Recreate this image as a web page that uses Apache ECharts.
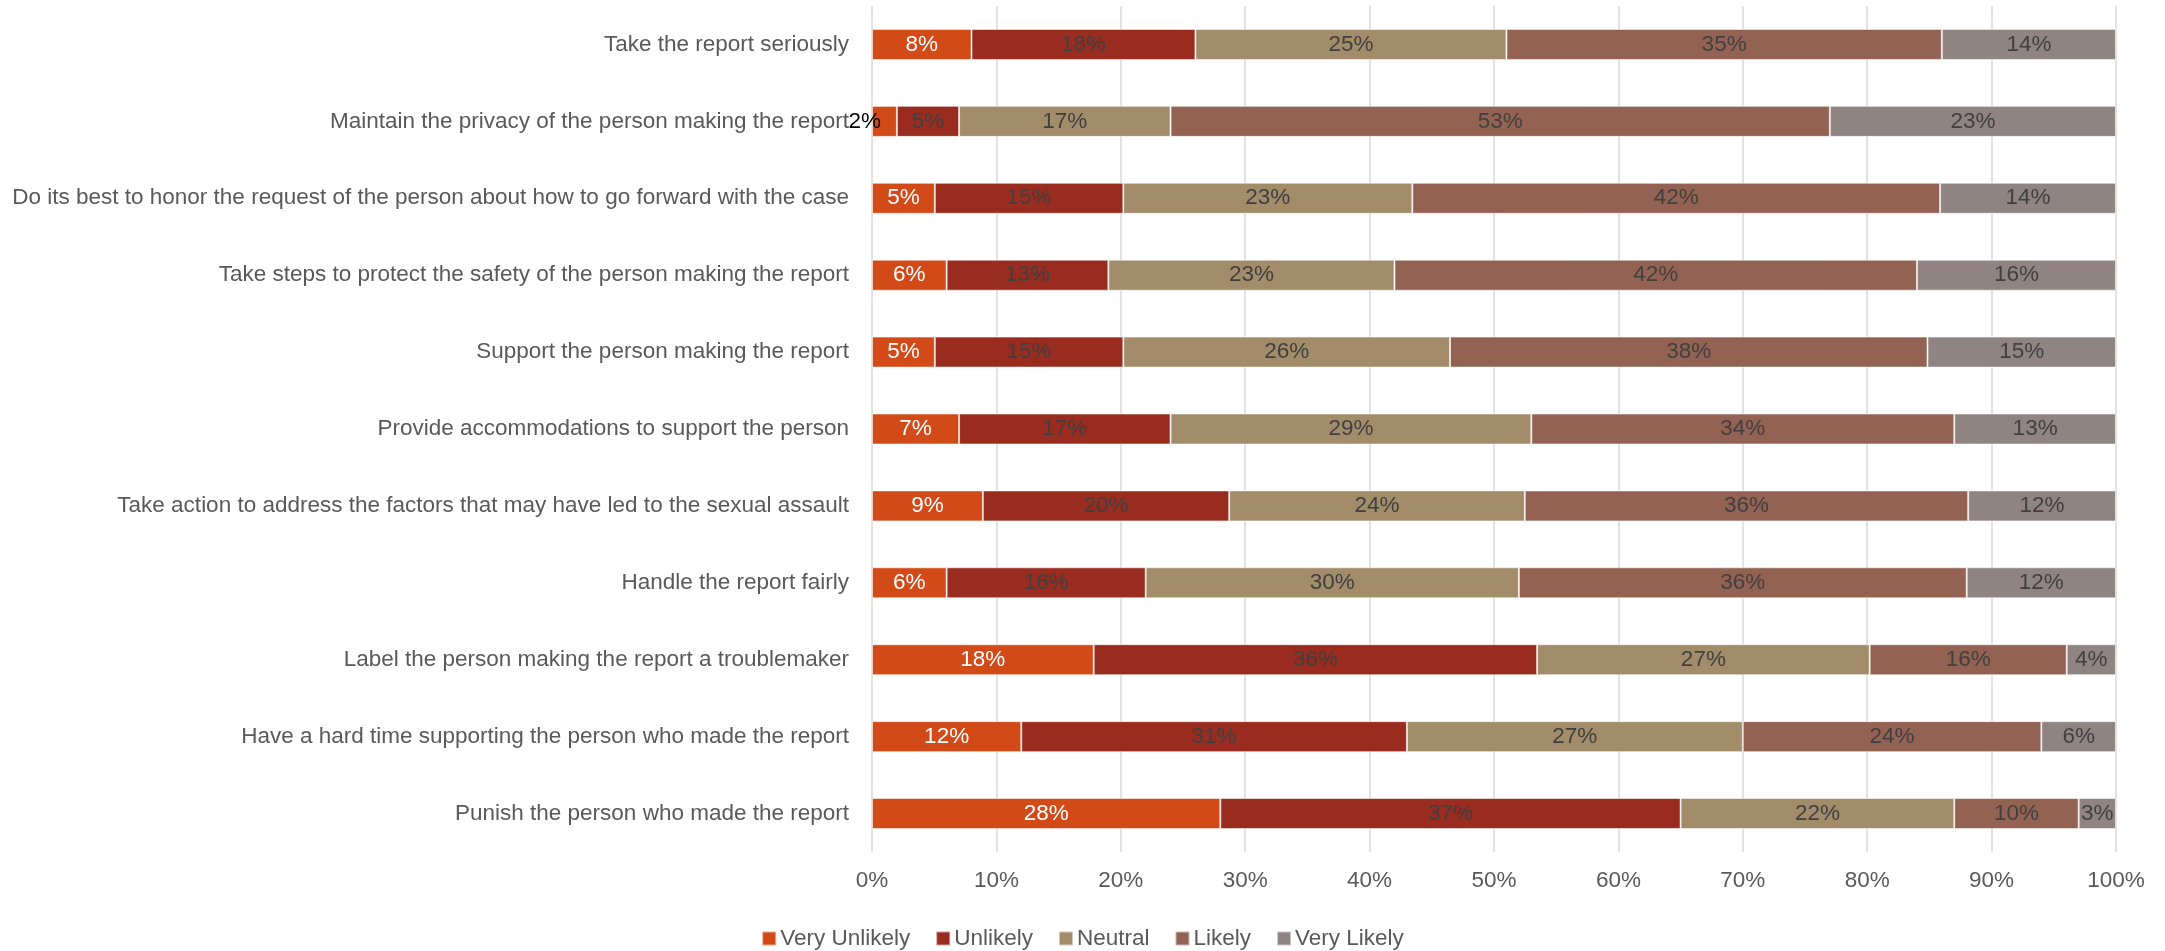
<!DOCTYPE html>
<html>
<head>
<meta charset="utf-8">
<title>Expected responses to a report</title>
<script src="https://cdn.jsdelivr.net/npm/echarts@6/dist/echarts.min.js"></script>
<style>
  html, body { margin: 0; padding: 0; background: #fff; }
  #chart { width: 2165px; height: 951px; }
</style>
</head>
<body>
<div id="chart"></div>
<script>
// Survey items, listed top to bottom
const categories = [
  'Take the report seriously',
  'Maintain the privacy of the person making the report',
  'Do its best to honor the request of the person about how to go forward with the case',
  'Take steps to protect the safety of the person making the report',
  'Support the person making the report',
  'Provide accommodations to support the person',
  'Take action to address the factors that may have led to the sexual assault',
  'Handle the report fairly',
  'Label the person making the report a troublemaker',
  'Have a hard time supporting the person who made the report',
  'Punish the person who made the report'
];

// Response shares in percent, one array per answer
const veryUnlikely = [8, 2, 5, 6, 5, 7, 9, 6, 18, 12, 28];
const unlikely     = [18, 5, 15, 13, 15, 17, 20, 16, 36, 31, 37];
const neutral      = [25, 17, 23, 23, 26, 29, 24, 30, 27, 27, 22];
const likely       = [35, 53, 42, 42, 38, 34, 36, 36, 16, 24, 10];
const veryLikely   = [14, 23, 14, 16, 15, 13, 12, 12, 4, 6, 3];

const seriesNames = ['Very Unlikely', 'Unlikely', 'Neutral', 'Likely', 'Very Likely'];
const seriesValues = [veryUnlikely, unlikely, neutral, likely, veryLikely];
const seriesColors = ['#D24A18', '#9A2C1F', '#A28C6A', '#936252', '#8F8482'];
const labelColors = ['#ffffff', '#404040', '#404040', '#404040', '#404040'];

const xTicks = [0, 10, 20, 30, 40, 50, 60, 70, 80, 90, 100];

const FONT = '"Liberation Sans", Arial, sans-serif';
const FONT_SIZE = 22.5;

// Each row is drawn as a 100% stack: shares are scaled by the row total
const rowTotals = categories.map((_, i) =>
  seriesValues.reduce((s, arr) => s + arr[i], 0));

const series = seriesNames.map((name, si) => ({
  name,
  type: 'bar',
  stack: 'total',
  barWidth: 31,
  itemStyle: {
    color: seriesColors[si],
    borderColor: 'rgba(255,255,255,0.55)',
    borderWidth: 1
  },
  label: {
    show: true,
    position: 'inside',
    color: labelColors[si],
    fontFamily: FONT,
    fontSize: FONT_SIZE,
    formatter: p => p.data.raw + '%'
  },
  data: seriesValues[si].map((v, i) => {
    const item = { value: v / rowTotals[i] * 100, raw: v };
    // too narrow for an inside label: put it at the bar's left edge
    if (v < 3) {
      item.label = { position: 'left', distance: -9, color: '#000000' };
    }
    return item;
  })
}));

const chart = echarts.init(document.getElementById('chart'), null, { renderer: 'canvas' });
chart.setOption({
  animation: false,
  backgroundColor: '#ffffff',
  textStyle: { fontFamily: FONT },
  grid: { left: 872, right: 49, top: 6, bottom: 99 },
  legend: {
    data: seriesNames,
    top: 922,
    left: 'center',
    icon: 'rect',
    itemWidth: 14,
    itemHeight: 14,
    itemGap: 25,
    textStyle: { fontFamily: FONT, fontSize: FONT_SIZE, color: '#595959', padding: [0, 0, 0, -1] }
  },
  xAxis: {
    type: 'value',
    min: 0,
    max: 100,
    interval: 10,
    axisLine: { show: false },
    axisTick: { show: false },
    splitLine: { show: true, lineStyle: { color: '#d9d9d9', width: 1.5 } },
    axisLabel: {
      fontFamily: FONT,
      fontSize: FONT_SIZE,
      color: '#595959',
      margin: 17,
      formatter: v => (xTicks.includes(v) ? v + '%' : '')
    }
  },
  yAxis: {
    type: 'category',
    data: categories,
    inverse: true,
    axisLine: { show: false },
    axisTick: { show: false },
    axisLabel: {
      fontFamily: FONT,
      fontSize: FONT_SIZE,
      color: '#595959',
      margin: 23
    }
  },
  series
});
</script>
</body>
</html>
